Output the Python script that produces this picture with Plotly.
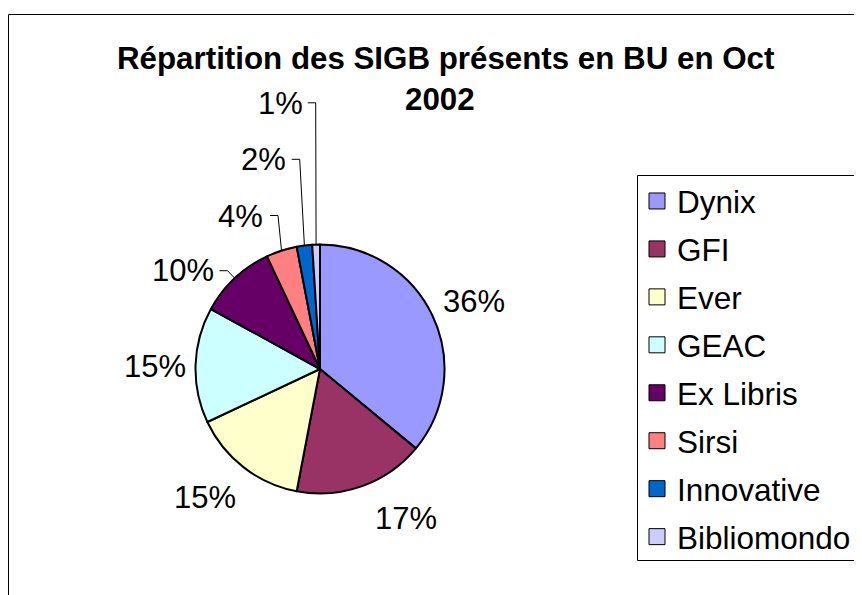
import math
import plotly.graph_objects as go

# ---------------- data ----------------
labels = ["Dynix", "GFI", "Ever", "GEAC", "Ex Libris", "Sirsi", "Innovative", "Bibliomondo"]
values = [36, 17, 15, 15, 10, 4, 2, 1]
colors = ["#9999FF", "#993366", "#FFFFCC", "#CCFFFF", "#660066", "#FF8080", "#0066CC", "#CCCCFF"]
title_lines = ["Répartition des SIGB présents en BU en Oct", "2002"]

# ---------------- layout constants (page pixels) ----------------
W, H = 862, 595
OX, OY = 8, 8                        # default page body margin
FONT = "Arial, Liberation Sans, sans-serif"
cx, cy, r = 320, 369, 124.5          # pie centre and radius
label_xy = [(474, 301), (405.5, 518), (205, 497), (155, 366.5),
            (182.7, 270.5), (240.5, 216), (263.3, 159.5), (280, 103)]
leader_start = {4: (219.5, 270.7), 5: (270, 215.5), 6: (291.7, 159.3), 7: (307.7, 102.8)}
ELBOW = 8

fig = go.Figure()

fig.add_trace(go.Pie(
    labels=labels, values=values, sort=False, direction="clockwise", rotation=0,
    marker=dict(colors=colors, line=dict(color="black", width=2)),
    textinfo="none", hoverinfo="label+percent", showlegend=False,
    domain=dict(x=[(cx - r - OX) / W, (cx + r - OX) / W],
                y=[1 - (cy + r - OY) / H, 1 - (cy - r - OY) / H]),
))

# leader lines: from label to the slice edge at its mid angle
total = sum(values)
cum = 0
mids = []
for v in values:
    mids.append(2 * math.pi * (cum + v / 2) / total)
    cum += v
for i, (sx, sy) in leader_start.items():
    a = mids[i]
    ex, ey = cx + r * math.sin(a), cy - r * math.cos(a)
    fig.add_trace(go.Scatter(
        x=[sx, sx + ELBOW, ex], y=[sy, sy, ey], mode="lines",
        line=dict(color="black", width=1), hoverinfo="skip", showlegend=False,
        xaxis="x", yaxis="y"))

# legend entries
for lab, col in zip(labels, colors):
    fig.add_trace(go.Scatter(
        x=[None], y=[None], mode="markers", name=lab, legendgroup=lab,
        marker=dict(symbol="square", size=16, color=col, line=dict(color="black", width=1)),
        hoverinfo="skip"))

annotations = []
for (lx, ly), v in zip(label_xy, values):
    annotations.append(dict(x=lx, y=ly, xref="x", yref="y", text=f"{v}%", showarrow=False,
                            xanchor="center", yanchor="middle",
                            font=dict(family=FONT, size=31, color="black")))
annotations.append(dict(x=446, y=58.5, xref="x", yref="y", text=f"<b>{title_lines[0]}</b>",
                        showarrow=False, xanchor="center", yanchor="middle",
                        font=dict(family=FONT, size=31.3, color="black")))
annotations.append(dict(x=440, y=99.5, xref="x", yref="y", text=f"<b>{title_lines[1]}</b>",
                        showarrow=False, xanchor="center", yanchor="middle",
                        font=dict(family=FONT, size=31.3, color="black")))

shapes = [
    dict(type="rect", xref="x", yref="y", x0=8.5, y0=14.5, x1=W + 40, y1=H + 40,
         line=dict(color="black", width=1), fillcolor="rgba(0,0,0,0)", layer="below"),
    dict(type="rect", xref="x", yref="y", x0=637.5, y0=175.5, x1=W + 40, y1=560.5,
         line=dict(color="black", width=1), fillcolor="rgba(0,0,0,0)", layer="below"),
]

fig.update_layout(
    width=W, height=H, margin=dict(l=0, r=0, t=0, b=0),
    paper_bgcolor="white", plot_bgcolor="white",
    xaxis=dict(range=[OX, OX + W], domain=[0, 1], visible=False, fixedrange=True),
    yaxis=dict(range=[OY + H, OY], domain=[0, 1], visible=False, fixedrange=True),
    showlegend=True,
    legend=dict(x=(637 - OX) / W, y=1 - (174 - OY) / H, xanchor="left", yanchor="top",
                font=dict(family=FONT, size=31.5, color="black"),
                bgcolor="rgba(0,0,0,0)", borderwidth=0,
                tracegroupgap=4, traceorder="grouped", itemclick=False, itemdoubleclick=False),
    annotations=annotations, shapes=shapes,
    font=dict(family=FONT, color="black"),
)

fig.write_html("out.html")
